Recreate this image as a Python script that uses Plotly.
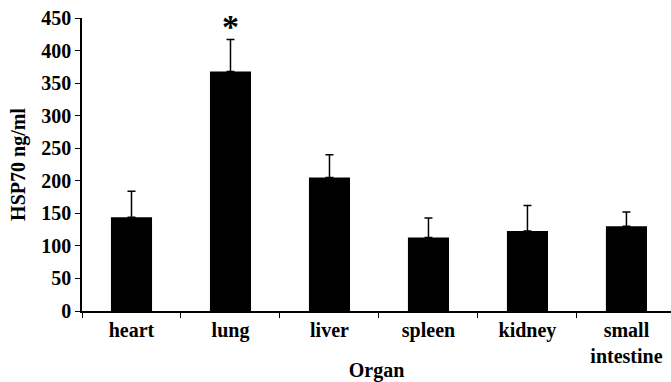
import plotly.graph_objects as go

organs = ["heart", "lung", "liver", "spleen", "kidney", "small<br>intestine"]
means = [144, 368, 205, 113, 123, 130]
errors = [40, 49, 35, 30, 39, 22]
y_ticks = [0, 50, 100, 150, 200, 250, 300, 350, 400, 450]

font = dict(family="Liberation Serif", size=20, color="black", weight="bold")

fig = go.Figure(go.Bar(
    x=organs, y=means, width=0.415,
    marker=dict(color="black", line=dict(width=0)),
    error_y=dict(type="data", symmetric=False, array=errors,
                 arrayminus=[0] * len(errors), color="black",
                 thickness=1.5, width=4),
))

fig.add_annotation(x="lung", y=means[1] + errors[1], text="*", showarrow=False,
                   yanchor="bottom", yshift=-8,
                   font=dict(family="Liberation Serif", size=34, color="black",
                             weight="bold"))

fig.update_layout(
    width=671, height=382, margin=dict(l=82, r=0, t=18, b=71),
    plot_bgcolor="white", paper_bgcolor="white",
    showlegend=False, font=font,
    xaxis=dict(range=[-0.5, 5.45], showline=True, linecolor="black", linewidth=1.5,
               ticks="outside", tickson="boundaries", ticklen=5, tickcolor="black",
               tickwidth=1, tickfont=font, showgrid=False, automargin=False,
               title=dict(text="Organ", font=font, standoff=2)),
    yaxis=dict(range=[0, 450], tickvals=y_ticks, showline=True, linecolor="black",
               linewidth=1.5, ticks="outside", ticklen=5, tickcolor="black",
               tickwidth=1, tickfont=font, showgrid=False, zeroline=False,
               title=dict(text="HSP70 ng/ml", font=font, standoff=10)),
)

fig.write_html("out.html")
